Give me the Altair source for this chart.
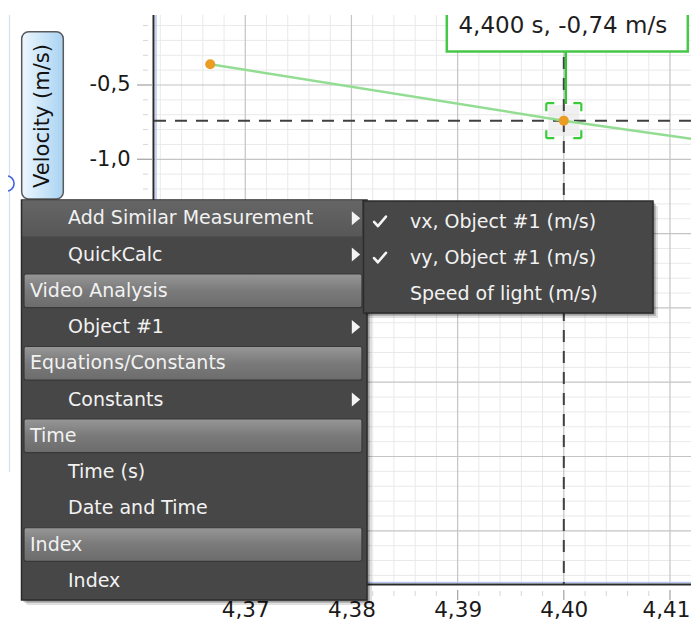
import altair as alt
import numpy as np
import pandas as pd

# ---------------- data ----------------
time_s = [4.3667, 4.4000, 4.4333]
velocity = [-0.36, -0.74, -1.08]
selected_time = 4.400
selected_velocity = -0.74
readout_text = "4,400 s, -0,74 m/s"
y_title = "Velocity (m/s)"
x_tick_values = [4.37, 4.38, 4.39, 4.40, 4.41]
y_tick_values = [0.0, -0.5, -1.0]

menu_labels = ["Add Similar Measurement", "QuickCalc", "Video Analysis", "Object #1",
               "Equations/Constants", "Constants", "Time", "Time (s)", "Date and Time",
               "Index", "Index"]
menu_kinds = ["hover", "item", "header", "item", "header", "item", "header", "item",
              "item", "header", "item"]
menu_has_submenu = [True, True, False, True, False, True, False, False, False, False, False]
submenu_labels = ["vx, Object #1 (m/s)", "vy, Object #1 (m/s)", "Speed of light (m/s)"]
submenu_checked = [True, True, False]

# ---------------- layout ----------------
FONT = "DejaVu Sans"
PLOT_W, PLOT_H = 538, 569
PAD = {"left": 145, "top": 7, "right": 0, "bottom": 38}
ORIGIN_X, ORIGIN_Y = 8 + PAD["left"], 8 + PAD["top"]
X_DOMAIN = [4.36131, 4.41198]
Y_DOMAIN = [-3.858, -0.029]


def ox(page_x):
    return page_x - ORIGIN_X


def oy(page_y):
    return page_y - ORIGIN_Y


xs = alt.Scale(domain=X_DOMAIN, nice=False, zero=False)
ys = alt.Scale(domain=Y_DOMAIN, nice=False, zero=False)

edge_test = "datum.value > 4.405"
x_axis = alt.Axis(values=x_tick_values,
                  labelExpr="replace(format(datum.value, '.2f'), '.', ',')",
                  labelAlign={"condition": {"test": edge_test, "value": "right"}, "value": "center"},
                  labelOffset={"condition": {"test": edge_test, "value": 20}, "value": 0},
                  ticks=False, domain=False, grid=False, title=None,
                  labelFont=FONT, labelFontSize=21.5, labelColor="#1a1a1a",
                  labelPadding=15, labelFlush=False, labelOverlap=False, labelBound=False,
                  zindex=0)
y_axis = alt.Axis(values=y_tick_values,
                  labelExpr="replace(replace(format(datum.value, '.1f'), '.', ','), '\u2212', '-')",
                  ticks=False, domain=False, grid=False, title=None,
                  labelFont=FONT, labelFontSize=21, labelColor="#1a1a1a",
                  labelPadding=23, labelFlush=False, labelOverlap=False, zindex=0)


def is_major(v, step):
    return abs(v / step - round(v / step)) < 1e-6


x_grid_all = np.round(np.arange(4.362, 4.4120, 0.002), 3)
x_major = [float(v) for v in x_grid_all if is_major(v, 0.01)]
x_minor = [float(v) for v in x_grid_all if not is_major(v, 0.01)]
y_grid_all = np.round(np.arange(-0.1, -3.86, -0.1), 1)
y_major = [float(v) for v in y_grid_all if is_major(v, 0.5)]
y_minor = [float(v) for v in y_grid_all if not is_major(v, 0.5)]

XQ = lambda: alt.X("t:Q", scale=xs, axis=x_axis)
YQ = lambda: alt.Y("v:Q", scale=ys, axis=y_axis)
PX = lambda f: alt.X(f"{f}:Q", scale=None, axis=None)
PY = lambda f: alt.Y(f"{f}:Q", scale=None, axis=None)

layers = []

# grid
layers.append(alt.Chart(pd.DataFrame({"t": x_minor})).mark_rule(color="#e9e9e9", strokeWidth=1).encode(x=XQ()))
layers.append(alt.Chart(pd.DataFrame({"v": y_minor})).mark_rule(color="#e9e9e9", strokeWidth=1).encode(y=YQ()))
layers.append(alt.Chart(pd.DataFrame({"t": x_major})).mark_rule(color="#c4c4c4", strokeWidth=1.2).encode(x=XQ()))
layers.append(alt.Chart(pd.DataFrame({"v": y_major})).mark_rule(color="#c4c4c4", strokeWidth=1.2).encode(y=YQ()))

# ticks outside the plot
layers.append(alt.Chart(pd.DataFrame({"t": x_minor})).mark_rule(color="#d6d6d6", strokeWidth=1).encode(
    x=XQ(), y=alt.value(oy(591)), y2=alt.value(oy(596))))
layers.append(alt.Chart(pd.DataFrame({"t": x_major})).mark_rule(color="#a8a8a8", strokeWidth=1.3).encode(
    x=XQ(), y=alt.value(oy(590)), y2=alt.value(oy(600))))
layers.append(alt.Chart(pd.DataFrame({"v": y_minor})).mark_rule(color="#d6d6d6", strokeWidth=1).encode(
    y=YQ(), x=alt.value(ox(143)), x2=alt.value(ox(148))))
layers.append(alt.Chart(pd.DataFrame({"v": y_major})).mark_rule(color="#a8a8a8", strokeWidth=1.3).encode(
    y=YQ(), x=alt.value(ox(137)), x2=alt.value(ox(152))))

# axis lines
layers.append(alt.Chart(pd.DataFrame({"a": [0]})).mark_rule(color="#b4c6f2", strokeWidth=1.5).encode(
    y=alt.value(oy(582.5))))
layers.append(alt.Chart(pd.DataFrame({"a": [0]})).mark_rule(color="#2a2a2a", strokeWidth=2).encode(
    y=alt.value(oy(584.5))))
layers.append(alt.Chart(pd.DataFrame({"a": [0]})).mark_rule(color="#b4c6f2", strokeWidth=1.5).encode(
    x=alt.value(ox(156))))
layers.append(alt.Chart(pd.DataFrame({"a": [0]})).mark_rule(color="#2a2a2a", strokeWidth=2).encode(
    x=alt.value(ox(153.5))))

sel = pd.DataFrame({"t": [selected_time], "v": [selected_velocity]})

# selection bracket fill
layers.append(alt.Chart(sel).mark_point(shape="square", size=31 * 31, filled=True, color="#e6e6e6",
                                         opacity=0.6).encode(x=XQ(), y=YQ()))

# crosshair
layers.append(alt.Chart(sel).mark_rule(color="#404040", strokeWidth=2, strokeDash=[12, 9]).encode(y=YQ()))
layers.append(alt.Chart(sel).mark_rule(color="#404040", strokeWidth=2, strokeDash=[12, 9]).encode(x=XQ()))

# data
data = pd.DataFrame({"t": time_s, "v": velocity})
layers.append(alt.Chart(data).mark_line(color="#93dd93", strokeWidth=2.5, clip=True).encode(
    x=XQ(), y=YQ()))
layers.append(alt.Chart(data).mark_circle(color="#ea9d22", size=100, opacity=1, clip=True).encode(
    x=XQ(), y=YQ()))

# bracket corners
layers.append(alt.Chart(sel).mark_point(shape="square", size=35 * 35, filled=False, stroke="#38cc38",
                                         strokeWidth=2.2, strokeDash=[8, 19, 8, 0], opacity=1).encode(
    x=XQ(), y=YQ()))

# connector and readout box
layers.append(alt.Chart(sel).mark_rule(color="#3cbf3c", strokeWidth=2.5, xOffset=2).encode(
    x=XQ(), y=alt.value(oy(51)), y2=alt.value(oy(104))))
layers.append(alt.Chart(sel).mark_rect(fill="white", stroke="#48c848", strokeWidth=2.5, clip=True,
                                        xOffset=-117, x2Offset=124).encode(
    x=XQ(), x2=alt.X2("t"), y=alt.value(-30), y2=alt.value(oy(51.5))))
layers.append(alt.Chart(pd.DataFrame({"t": [selected_time], "label": [readout_text]})).mark_text(
    font=FONT, fontSize=23, color="#1e1e1e", align="center", baseline="alphabetic", dx=-1).encode(
    x=XQ(), y=alt.value(oy(33)), text="label:N"))

# y axis title badge
title_grad = alt.Gradient(gradient="linear", x1=0, x2=1, y1=0, y2=0,
                          stops=[alt.GradientStop(color="#eef7fd", offset=0),
                                 alt.GradientStop(color="#a9d3f2", offset=1)])
badge = pd.DataFrame({"x1": [ox(21.7)], "x2": [ox(63.3)], "y1": [oy(31.7)], "y2": [oy(199)],
                      "cx": [ox(42.5)], "cy": [oy(116)], "label": [y_title]})
layers.append(alt.Chart(badge).mark_rect(fill=title_grad, stroke="#5a5a5a", strokeWidth=1.5,
                                          cornerRadius=7).encode(
    x=PX("x1"), x2="x2", y=PY("y1"), y2="y2"))
layers.append(alt.Chart(badge).mark_text(font=FONT, fontSize=21, color="#111111", angle=270,
                                          align="center", baseline="middle").encode(
    x=PX("cx"), y=PY("cy"), text="label:N"))

# left blue guide and handle
layers.append(alt.Chart(pd.DataFrame({"a": [0]})).mark_rule(color="#d2e0f6", strokeWidth=1.2).encode(
    x=alt.value(ox(9.5)), y=alt.value(oy(15)), y2=alt.value(oy(472))))
handle = pd.DataFrame({"cx": [ox(6.5)], "cy": [oy(183.5)]})
layers.append(alt.Chart(handle).mark_point(shape="circle", size=230, filled=True, fill="white",
                                            stroke="#4466dd", strokeWidth=1.6, opacity=1).encode(
    x=PX("cx"), y=PY("cy")))

# ---------------- context menu ----------------
ROW0, PITCH = 218.3, 36.25
n = len(menu_labels)
centers = ROW0 + PITCH * np.arange(n)
rows = pd.DataFrame({"label": menu_labels, "kind": menu_kinds, "sub": menu_has_submenu,
                     "cy": [oy(c) for c in centers]})
rows["y1"] = rows["cy"] - PITCH / 2
rows["y2"] = rows["cy"] + PITCH / 2
rows["hy1"] = rows["cy"] - 16.8
rows["hy2"] = rows["cy"] + 16.8
rows["x1"] = ox(22.5)
rows["x2"] = ox(362)
rows["hx1"] = ox(24)
rows["tx"] = np.where(rows["kind"] == "header", ox(30), ox(68))
rows["ax"] = ox(356)

menu_box = pd.DataFrame({"x1": [ox(21.5)], "x2": [ox(367)], "y1": [oy(200)], "y2": [oy(600)]})
for off, op in [(5, 0.12), (3, 0.18), (1.5, 0.25)]:
    s = menu_box.copy()
    s["x1"] += off; s["x2"] += off; s["y1"] += off; s["y2"] += off
    layers.append(alt.Chart(s).mark_rect(color="#000000", opacity=op).encode(
        x=PX("x1"), x2="x2", y=PY("y1"), y2="y2"))
layers.append(alt.Chart(menu_box).mark_rect(fill="#474747", stroke="#2c2c2c", strokeWidth=1.5).encode(
    x=PX("x1"), x2="x2", y=PY("y1"), y2="y2"))

hover_grad = alt.Gradient(gradient="linear", x1=0, x2=0, y1=0, y2=1,
                          stops=[alt.GradientStop(color="#666666", offset=0),
                                 alt.GradientStop(color="#575757", offset=1)])
header_grad = alt.Gradient(gradient="linear", x1=0, x2=0, y1=0, y2=1,
                           stops=[alt.GradientStop(color="#979797", offset=0),
                                  alt.GradientStop(color="#7a7a7a", offset=0.5),
                                  alt.GradientStop(color="#6c6c6c", offset=1)])
layers.append(alt.Chart(rows[rows["kind"] == "hover"]).mark_rect(fill=hover_grad).encode(
    x=PX("x1"), x2="x2", y=PY("y1"), y2="y2"))
layers.append(alt.Chart(rows[rows["kind"] == "header"]).mark_rect(
    fill=header_grad, stroke="#383838", strokeWidth=1.2, cornerRadius=2).encode(
    x=PX("hx1"), x2="x2", y=PY("hy1"), y2="hy2"))
layers.append(alt.Chart(rows).mark_text(font=FONT, fontSize=19, color="#f2f2f2", align="left",
                                         baseline="middle").encode(
    x=PX("tx"), y=PY("cy"), text="label:N"))
arrow = "M-0.6,-1L0.6,0L-0.6,1Z"
layers.append(alt.Chart(rows[rows["sub"]]).mark_point(shape=arrow, size=196, filled=True,
                                                      color="#f4f4f4", opacity=1).encode(
    x=PX("ax"), y=PY("cy")))

# submenu
sub_box = pd.DataFrame({"x1": [ox(363.5)], "x2": [ox(653)], "y1": [oy(201)], "y2": [oy(313)]})
for off, op in [(5, 0.12), (3, 0.18), (1.5, 0.25)]:
    s = sub_box.copy()
    s["x1"] += off; s["x2"] += off; s["y1"] += off; s["y2"] += off
    layers.append(alt.Chart(s).mark_rect(color="#000000", opacity=op).encode(
        x=PX("x1"), x2="x2", y=PY("y1"), y2="y2"))
layers.append(alt.Chart(sub_box).mark_rect(fill="#474747", stroke="#2c2c2c", strokeWidth=1.5).encode(
    x=PX("x1"), x2="x2", y=PY("y1"), y2="y2"))
sub_centers = 221.5 + 36.2 * np.arange(len(submenu_labels))
sub = pd.DataFrame({"label": submenu_labels, "checked": submenu_checked,
                    "cy": [oy(c) for c in sub_centers]})
sub["tx"] = ox(410)
sub["cx"] = ox(380)
layers.append(alt.Chart(sub).mark_text(font=FONT, fontSize=19, color="#f2f2f2", align="left",
                                        baseline="middle").encode(
    x=PX("tx"), y=PY("cy"), text="label:N"))
check = "M-0.85,0.05L-0.3,0.65L0.85,-0.7"
layers.append(alt.Chart(sub[sub["checked"]]).mark_point(shape=check, size=196, filled=False,
                                                        stroke="#f4f4f4", strokeWidth=2.6,
                                                        strokeCap="round", strokeJoin="round",
                                                        opacity=1).encode(
    x=PX("cx"), y=PY("cy")))

chart = alt.layer(*layers).properties(
    width=PLOT_W, height=PLOT_H, padding=PAD,
    autosize=alt.AutoSizeParams(type="none"),
    background="white",
).configure_view(stroke=None)

chart.save("out.html", embed_options={"renderer": "svg", "actions": False})
